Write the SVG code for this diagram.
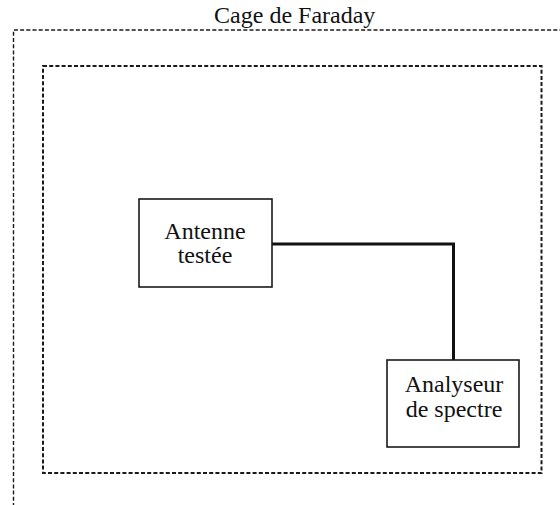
<svg xmlns="http://www.w3.org/2000/svg" width="560" height="505" viewBox="0 0 560 505">
<style>
text{font-family:"Liberation Serif","Times New Roman",serif;font-size:24px;fill:#111;text-anchor:middle}
.cage{fill:none;stroke:#1a1a1a;stroke-dasharray:4 2.2}
.box{fill:#fff;stroke:#1a1a1a;stroke-width:1.6}
.wire{fill:none;stroke:#111;stroke-width:3}
</style>
<rect width="560" height="505" fill="#fff"/>
<g id="cage-outer">
<path class="cage" d="M13.5,600 V30 H600" stroke-width="1.4"/>
<text x="294.7" y="23">Cage de Faraday</text>
</g>
<g id="cage-inner">
<rect class="cage" x="43" y="66" width="498.5" height="407" stroke-width="2"/>
</g>
<g id="connectors">
<path class="wire" d="M272,244 H453.5 V360"/>
</g>
<g id="antenne">
<rect class="box" x="139" y="199" width="133" height="88"/>
<text x="205" y="239">Antenne</text>
<text x="205" y="263">testée</text>
</g>
<g id="analyseur">
<rect class="box" x="387" y="360" width="132" height="87"/>
<text x="454" y="392">Analyseur</text>
<text x="454" y="416.5">de spectre</text>
</g>
</svg>
